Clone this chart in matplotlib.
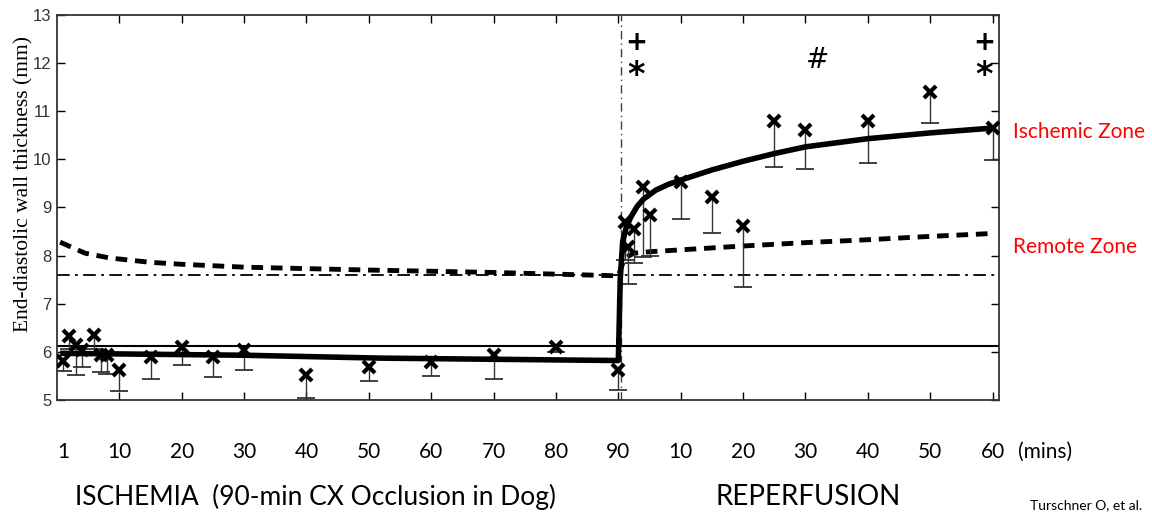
"""End-diastolic wall thickness during CX occlusion and reperfusion (dog)."""

import matplotlib

matplotlib.use("Agg")
import matplotlib.pyplot as plt

# --- data (minutes on a continuous axis: 0-90 ischemia, 90-150 reperfusion) ---
isch_t = [1, 2, 3, 4, 6, 7, 8, 10, 15, 20, 25, 30, 40, 50, 60, 70, 80, 90]
isch_y = [5.82, 6.33, 6.14, 6.03, 6.35, 5.93, 5.93, 5.62, 5.89, 6.10, 5.89,
          6.03, 5.52, 5.68, 5.79, 5.93, 6.10, 5.62]
isch_low = [5.60, 6.05, 5.52, 5.68, 6.05, 5.58, 5.55, 5.18, 5.43, 5.72, 5.48,
            5.62, 5.04, 5.39, 5.50, 5.43, 6.00, 5.20]

rep_t = [91, 91.5, 92.5, 94, 95, 100, 105, 110, 115, 120, 130, 140, 150]
rep_y = [8.70, 8.18, 8.55, 9.42, 8.84, 9.53, 9.22, 8.61, 10.80, 10.61, 10.80,
         11.40, 10.65]
rep_low = [7.90, 7.40, 7.85, 7.97, 8.00, 8.76, 8.47, 7.35, 9.84, 9.80, 9.92,
           10.75, 9.99]

# fitted curve, ischemic zone
fit_isch_t = [0.5, 30, 52, 90, 90.3, 90.7, 91.3, 92, 93, 94, 96, 98, 100, 105,
              110, 115, 120, 130, 140, 150]
fit_isch_y = [5.97, 5.93, 5.87, 5.82, 7.5, 8.3, 8.6, 8.8, 9.02, 9.17, 9.36,
              9.48, 9.57, 9.78, 9.96, 10.12, 10.26, 10.43, 10.55, 10.65]

# fitted curve, remote zone
fit_rem_t = [0.5, 4.5, 8.5, 15, 20, 30, 40, 50, 70, 90, 91, 92.5, 95, 100,
             110, 120, 130, 140, 150]
fit_rem_y = [8.28, 8.05, 7.95, 7.86, 7.82, 7.76, 7.73, 7.70, 7.65, 7.58, 7.95,
             8.05, 8.08, 8.12, 8.20, 8.27, 8.33, 8.40, 8.46]

baseline_isch = 6.12
baseline_rem = 7.6
occlusion_end = 90.4

label_min = [1, 10, 20, 30, 40, 50, 60, 70, 80, 90, 100, 110, 120, 130, 140, 150]
label_txt = ["1", "10", "20", "30", "40", "50", "60", "70", "80", "90",
             "10", "20", "30", "40", "50", "60"]

# significance marks: (minute, value, symbol)
marks = [(92.8, 12.42, "+"), (92.8, 11.86, "*"), (121.8, 12.06, "#"),
         (148.7, 12.42, "+"), (148.7, 11.86, "*")]

SLIDE_FONT = ["Lato", "DejaVu Sans"]

fig = plt.figure(figsize=(11.52, 5.12), dpi=100)
ax = fig.add_axes([0.0495, 0.21875, 0.8175, 0.752])

ax.axhline(baseline_isch, color="k", lw=1.5, zorder=2)
ax.axhline(baseline_rem, color="k", lw=1.3, dashes=(7, 3, 1.5, 3), zorder=2)
ax.axvline(occlusion_end, color="0.25", lw=1.0, dashes=(6, 3, 1, 3), zorder=1)

ax.plot(fit_rem_t, fit_rem_y, color="k", lw=3.5, dashes=(2.4, 1.6), zorder=3)
ax.plot(fit_isch_t, fit_isch_y, color="k", lw=4, solid_capstyle="butt",
        solid_joinstyle="round", zorder=4)

all_t = isch_t + rep_t
all_y = isch_y + rep_y
all_low = isch_low + rep_low
ax.vlines(all_t, all_low, all_y, color="0.2", lw=1.0, zorder=3)
ax.plot(all_t, all_low, ls="none", marker="_", ms=13, mew=1.3, color="0.2",
        zorder=3)
ax.plot(all_t, all_y, ls="none", marker="x", ms=9, mew=3, color="k", zorder=5)

for t, v, s in marks:
    size = {"+": 19, "*": 24, "#": 20}[s]
    dy = -0.12 if s == "*" else 0.0
    ax.text(t, v + dy, s, ha="center", va="center", fontsize=size,
            family="DejaVu Sans", fontweight="bold" if s != "#" else "normal",
            fontstyle="italic" if s == "#" else "normal", zorder=6)

ax.set_xlim(0, 151)
ax.set_ylim(5, 13)
ax.set_xticks(range(10, 151, 10))
ax.set_xticklabels([])
ax.set_yticks(range(5, 14))
ax.tick_params(direction="in", top=True, right=True, length=6, width=1,
               labelsize=12, pad=4, labelcolor="0.2")
for lbl in ax.get_yticklabels():
    lbl.set_family("Liberation Sans")
for sp in ax.spines.values():
    sp.set_linewidth(1.3)
    sp.set_color("0.2")

ax.set_ylabel("End-diastolic wall thickness (mm)", family="Liberation Serif",
              fontsize=15.5)
ax.yaxis.set_label_coords(-0.0245, 0.56)

xa = ax.get_xaxis_transform()
for m, s in zip(label_min, label_txt):
    ax.text(m, -0.135, s, transform=xa, ha="center", va="center",
            fontsize=15, family=SLIDE_FONT)
fig.text(1018 / 1152, 1 - 452 / 512, "(mins)", ha="left", va="center",
         fontsize=15, family=SLIDE_FONT)

fig.text(75 / 1152, 1 - 497 / 512, "ISCHEMIA  (90-min CX Occlusion in Dog)",
         ha="left", va="center", fontsize=19, family=SLIDE_FONT)
fig.text(715 / 1152, 1 - 497 / 512, "REPERFUSION", ha="left", va="center",
         fontsize=20, family=SLIDE_FONT)
fig.text(1030 / 1152, 1 - 505 / 512, "Turschner O, et al.", ha="left",
         va="center", fontsize=10, family=SLIDE_FONT)

fig.text(1013 / 1152, 1 - 132 / 512, "Ischemic Zone", ha="left", va="center",
         fontsize=15, color="#ff0000", family=SLIDE_FONT)
fig.text(1013 / 1152, 1 - 247 / 512, "Remote Zone", ha="left", va="center",
         fontsize=15, color="#ff0000", family=SLIDE_FONT)

fig.savefig("out.png", dpi=100)
